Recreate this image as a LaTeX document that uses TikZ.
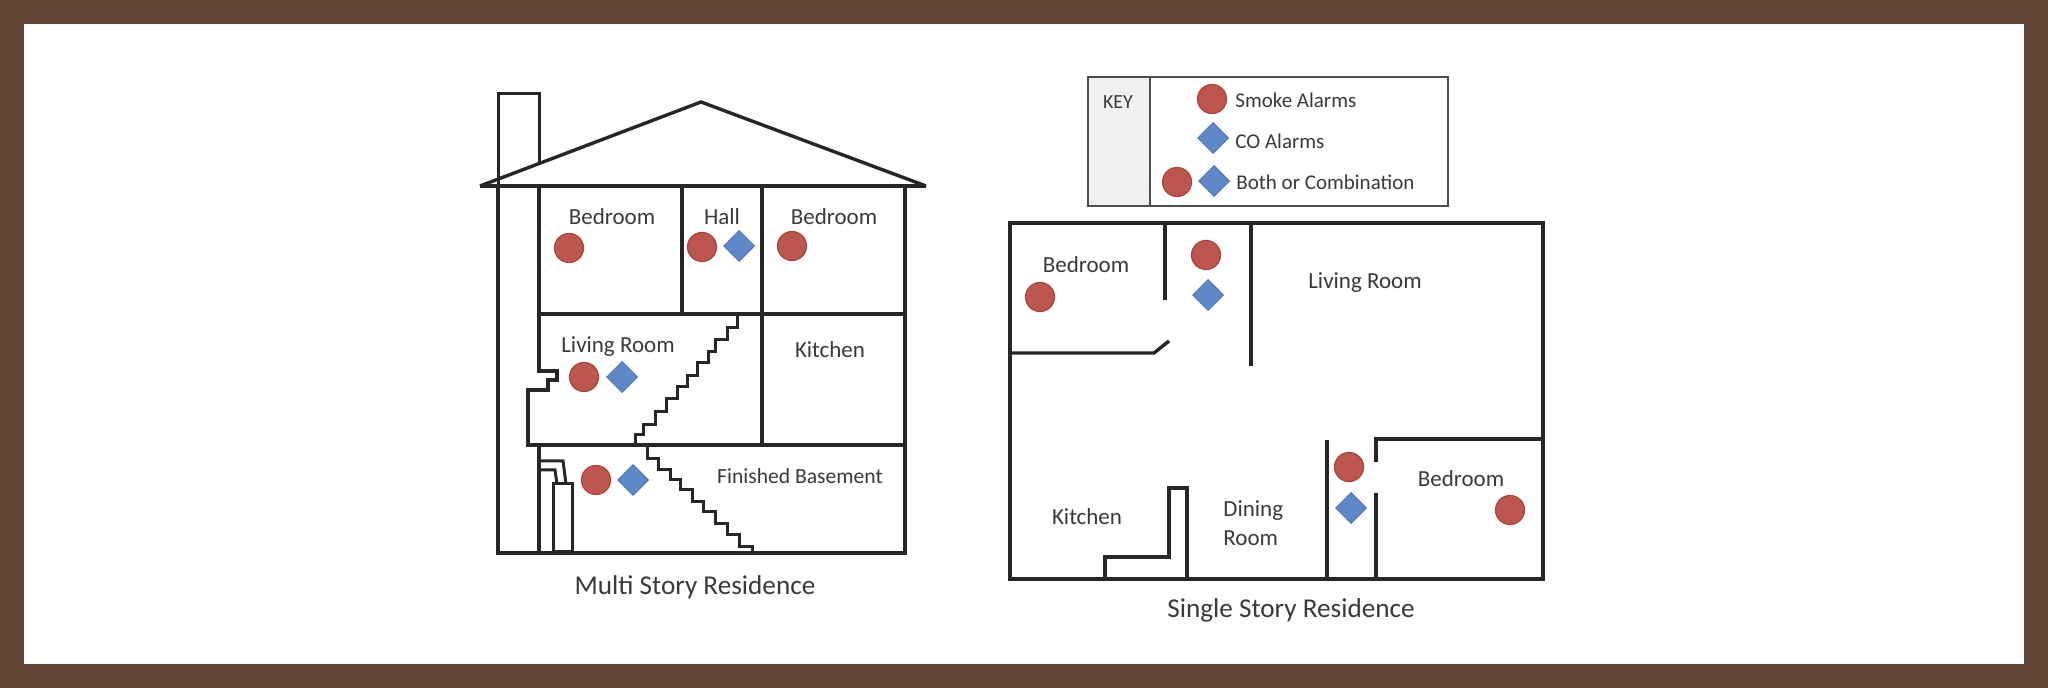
\documentclass[tikz,border=0pt]{standalone}
\usepackage{fontspec}
\setmainfont{Carlito}
\usepackage[HTML]{xcolor}
\usetikzlibrary{positioning, shapes.geometric}
\definecolor{framebrown}{HTML}{614637}
\definecolor{smokered}{HTML}{BE5650}
\definecolor{smokeedge}{HTML}{A8443F}
\definecolor{coblue}{HTML}{5F88C9}
\definecolor{coedge}{HTML}{5478B4}
\definecolor{labelgrey}{HTML}{3A3A3A}
\tikzset{
  wall/.style={line width=1.7pt,black!85,line join=miter},
  thinwall/.style={line width=1.5pt,black!85},
  smokealarm/.style={circle,fill=smokered,draw=smokeedge,line width=0.6pt,minimum size=14.5pt,inner sep=0pt},
  coalarm/.style={diamond,fill=coblue,draw=coedge,line width=0.5pt,minimum size=15.5pt,inner sep=0pt},
  room/.style={text=labelgrey,font=\fontsize{11.5}{14}\selectfont,inner sep=0pt},
  keytext/.style={text=labelgrey,font=\fontsize{10.5}{12}\selectfont,inner sep=0pt,anchor=west},
  caption/.style={text=labelgrey,font=\fontsize{13.6}{16}\selectfont,inner sep=0pt}
}
\begin{document}
\begin{tikzpicture}[x=0.5pt,y=-0.5pt]
\useasboundingbox (0,0) rectangle (2048,688);
% frame
\fill[framebrown] (0,0) rectangle (2048,688);
\fill[white] (24,24) rectangle (2024,664);
% multi story house
\draw[thinwall] (498,186)--(498,94)--(539,94)--(539,163);
\draw[wall] (480,186)--(701,102)--(926,186);
\draw[line width=2.2pt,black!85] (480,186)--(926,186);
\draw[wall] (498,186)--(498,553)--(905,553)--(905,186);
\draw[wall] (539,186)--(539,371)--(557,371)--(557,380)--(548,380)--(548,390)--(528,390)--(528,445)--(905,445);
\draw[wall] (539,314)--(905,314);
\draw[wall] (682,186)--(682,314);
\draw[wall] (762,186)--(762,445);
\draw[wall] (539,445)--(539,553);
% stairs
\draw[thinwall] (635,445)--(635,435)--(643,435)--(643,425)--(655,425)--(655,412)--(666,412)--(666,399)--(677,399)--(677,387)--(687,387)--(687,376)--(697,376)--(697,363)--(708,363)--(708,352)--(715,352)--(715,340)--(727,340)--(727,328)--(737,328)--(737,315);
\draw[thinwall] (647,447)--(647,459)--(658,459)--(658,470)--(670,470)--(670,480)--(680,480)--(680,490)--(692,490)--(692,502)--(703,502)--(703,512)--(715,512)--(715,524)--(727,524)--(727,535)--(739,535)--(739,547)--(752,547)--(752,553);
% furnace
\draw[thinwall] (553,552)--(553,484)--(572,484)--(572,552)--cycle;
\draw[thinwall] (539,461)--(563,461)--(566,484);
\draw[thinwall] (539,470)--(555,470)--(557,484);
% rooms
\node[room] (bedroomA) at (612,217) {Bedroom};
\node[room] (hall) at (722,217) {Hall};
\node[room] (bedroomB) at (834,217) {Bedroom};
\node[room] (living) at (618,347) {Living Room};
\node[room] (kitchen) at (830,350) {Kitchen};
\node[room,font=\fontsize{10.8}{14}\selectfont] (basement) at (800,476) {Finished Basement};
\node[caption] (multi) at (695,587) {Multi Story Residence};
% alarms
\node[smokealarm] (smokeA) at (569,248) {};
\node[smokealarm] (smokeB) at (702,247) {};
\node[coalarm] (coB) at (739,246) {};
\node[smokealarm] (smokeC) at (792,246) {};
\node[smokealarm] (smokeD) at (584,377) {};
\node[coalarm] (coD) at (622,377) {};
\node[smokealarm] (smokeE) at (596,480) {};
\node[coalarm] (coE) at (633,480) {};
% key
\filldraw[fill=black!6,draw=none] (1088,77) rectangle (1150,206);
\draw[line width=1.2pt,black!70] (1088,77) rectangle (1448,206);
\draw[line width=1.2pt,black!70] (1150,77)--(1150,206);
\node[text=labelgrey,font=\fontsize{10}{12}\selectfont,inner sep=0pt] (keyname) at (1118,102) {KEY};
\node[smokealarm] (keysmoke) at (1212,99) {};
\node[keytext] (keysmoketext) at (1235,100) {Smoke Alarms};
\node[coalarm] (keyco) at (1213,138) {};
\node[keytext] (keycotext) at (1235,141) {CO Alarms};
\node[smokealarm] (keybothA) at (1177,182) {};
\node[coalarm] (keybothB) at (1214,181) {};
\node[keytext] (keybothtext) at (1236,182) {Both or Combination};
% single story plan
\draw[wall] (1010,223) rectangle (1543,579);
\draw[line width=2.1pt,black!85] (1251,223)--(1543,223)--(1543,439);
\draw[wall] (1165,223)--(1165,300);
\draw[wall] (1010,353)--(1154,353)--(1169,341);
\draw[wall] (1251,223)--(1251,366);
\draw[wall] (1327,440)--(1327,579);
\draw[wall] (1376,462)--(1376,439)--(1543,439);
\draw[wall] (1376,493)--(1376,579);
\draw[wall] (1105,579)--(1105,557)--(1169,557)--(1169,488)--(1187,488)--(1187,579);
% rooms
\node[room] (bedroomC) at (1086,265) {Bedroom};
\node[room] (livingB) at (1365,283) {Living Room};
\node[room] (kitchenB) at (1087,517) {Kitchen};
\node[room,align=left,font=\fontsize{11.5}{14.5}\selectfont,anchor=west] (dining) at (1223,523) {Dining\\Room};
\node[room] (bedroomD) at (1461,479) {Bedroom};
\node[caption] (single) at (1291,610) {Single Story Residence};
% alarms
\node[smokealarm] (smokeF) at (1040,297) {};
\node[smokealarm] (smokeG) at (1206,255) {};
\node[coalarm] (coG) at (1208,295) {};
\node[smokealarm] (smokeH) at (1349,467) {};
\node[coalarm] (coH) at (1351,508) {};
\node[smokealarm] (smokeI) at (1510,510) {};
\end{tikzpicture}
\end{document}
